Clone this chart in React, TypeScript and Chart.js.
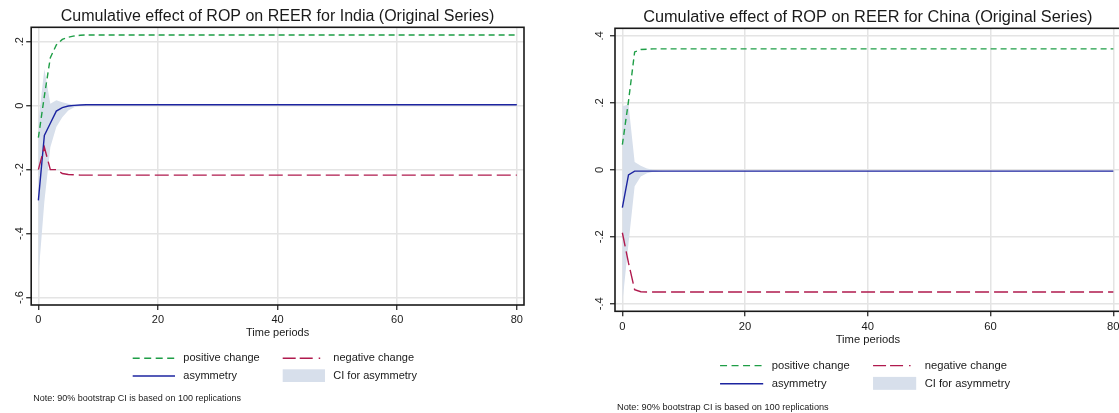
import React, { useEffect, useRef } from 'react';
import { Chart, registerables } from 'chart.js';
Chart.register(...registerables);

// ---------- data ----------
const periods = [0, 1, 2, 3, 4, 5, 6, 7, 8, 10, 20, 40, 60, 80];
const xTickValues = [0, 20, 40, 60, 80];
const indiaYTicks = [-0.6, -0.4, -0.2, 0, 0.2];
const chinaYTicks = [-0.4, -0.2, 0, 0.2, 0.4];

const indiaPositive = [-0.1, 0.03, 0.15, 0.19, 0.207, 0.214, 0.218, 0.22, 0.221, 0.221, 0.221, 0.221, 0.221, 0.221];
const indiaNegative = [-0.2, -0.13, -0.2, -0.2, -0.212, -0.215, -0.216, -0.217, -0.217, -0.217, -0.217, -0.217, -0.217, -0.217];
const indiaAsymmetry = [-0.296, -0.093, -0.055, -0.017, -0.006, -0.001, 0.001, 0.002, 0.003, 0.003, 0.003, 0.003, 0.003, 0.003];
const indiaCIUpper = [-0.05, 0.115, 0.006, 0.017, 0.011, 0.006, 0.004, 0.003, 0.003, 0.003, 0.003, 0.003, 0.003, 0.003];
const indiaCILower = [-0.535, -0.3, -0.13, -0.067, -0.036, -0.015, -0.005, 0.0, 0.002, 0.003, 0.003, 0.003, 0.003, 0.003];

const chinaPositive = [0.075, 0.205, 0.352, 0.359, 0.36, 0.361, 0.361, 0.361, 0.361, 0.361, 0.361, 0.361, 0.361, 0.361];
const chinaNegative = [-0.188, -0.278, -0.358, -0.364, -0.365, -0.365, -0.365, -0.365, -0.365, -0.365, -0.365, -0.365, -0.365, -0.365];
const chinaAsymmetry = [-0.113, -0.015, -0.004, -0.004, -0.004, -0.004, -0.004, -0.004, -0.004, -0.004, -0.004, -0.004, -0.004, -0.004];
const chinaCIUpper = [0.19, 0.195, 0.023, 0.012, 0.004, 0.0, -0.003, -0.004, -0.004, -0.004, -0.004, -0.004, -0.004, -0.004];
const chinaCILower = [-0.398, -0.22, -0.049, -0.02, -0.01, -0.006, -0.004, -0.004, -0.004, -0.004, -0.004, -0.004, -0.004, -0.004];

const indiaTitle = 'Cumulative effect of ROP on REER for India (Original Series)';
const chinaTitle = 'Cumulative effect of ROP on REER for China (Original Series)';
const xAxisTitle = 'Time periods';
const legendLabels = ['positive change', 'negative change', 'asymmetry', 'CI for asymmetry'];
const noteText = 'Note: 90% bootstrap CI is based on 100 replications';

// ---------- styles ----------
const FONT = '"Liberation Sans", Arial, sans-serif';
const GREEN = '#1e9e46';
const CRIMSON = '#b01a4e';
const NAVY = '#1c24a0';
const BAND = '#d7dfeb';
const GRID = '#e4e4e4';
const INK = '#1a1a1a';

const fmtY = (v: number) => {
  if (Math.abs(v) < 1e-9) return '0';
  const s = Math.abs(v).toFixed(1).replace(/^0/, '');
  return (v < 0 ? '-' : '') + s;
};

type PanelCfg = {
  canvasLeft: number; width: number;
  areaLeft: number; areaTop: number; areaRight: number; areaBottom: number;
  yMin: number; yMax: number; yTicks: number[];
  positive: number[]; negative: number[]; asym: number[]; upper: number[]; lower: number[];
  title: string; s: number; yLabOff: number;
};

const panels: PanelCfg[] = [
  {
    canvasLeft: 0, width: 560,
    areaLeft: 31.2, areaTop: 27.3, areaRight: 524, areaBottom: 305,
    yMin: -0.623, yMax: 0.245, yTicks: indiaYTicks,
    positive: indiaPositive, negative: indiaNegative, asym: indiaAsymmetry, upper: indiaCIUpper, lower: indiaCILower,
    title: indiaTitle, s: 1, yLabOff: 11,
  },
  {
    canvasLeft: 560, width: 600,
    areaLeft: 55, areaTop: 28.3, areaRight: 560.7, areaBottom: 311.3,
    yMin: -0.4225, yMax: 0.4225, yTicks: chinaYTicks,
    positive: chinaPositive, negative: chinaNegative, asym: chinaAsymmetry, upper: chinaCIUpper, lower: chinaCILower,
    title: chinaTitle, s: 1.02, yLabOff: 15.5,
  },
];

function Panel({ cfg }: { cfg: PanelCfg }) {
  const ref = useRef<HTMLCanvasElement>(null);
  useEffect(() => {
    const pts = (arr: number[]) => periods.map((p, i) => ({ x: p, y: arr[i] }));
    const s = cfg.s;
    const decor = {
      id: 'decor',
      afterDraw(chart: any) {
        const ctx = chart.ctx as CanvasRenderingContext2D;
        const ca = chart.chartArea;
        const ys = chart.scales.y;
        const cx = (ca.left + ca.right) / 2;
        ctx.save();
        // frame
        ctx.strokeStyle = INK;
        ctx.lineWidth = 1.6;
        ctx.setLineDash([]);
        ctx.strokeRect(ca.left, ca.top, ca.right - ca.left, ca.bottom - ca.top);
        // y tick labels (rotated)
        ctx.fillStyle = INK;
        ctx.font = `${11 * s}px ${FONT}`;
        ctx.textAlign = 'center';
        ctx.textBaseline = 'middle';
        cfg.yTicks.forEach((v) => {
          const py = ys.getPixelForValue(v);
          ctx.save();
          ctx.translate(ca.left - cfg.yLabOff, py);
          ctx.rotate(-Math.PI / 2);
          ctx.fillText(fmtY(v), 0, 0);
          ctx.restore();
        });
        // title
        ctx.font = `${16 * s}px ${FONT}`;
        ctx.textBaseline = 'alphabetic';
        ctx.fillText(cfg.title, cx, ca.top - 6.3);
        // x axis title
        ctx.font = `${11 * s}px ${FONT}`;
        ctx.textBaseline = 'middle';
        ctx.fillText(xAxisTitle, cx, ca.bottom + 27.7 * s);
        // legend
        const r1 = ca.bottom + 53.3 * s;
        const r2 = ca.bottom + 71 * s;
        const gx0 = cx - 144.9 * s, gx1 = cx - 102.6 * s, gt = cx - 94.3 * s;
        const cx0 = cx + 5.1 * s, cx1 = cx + 46.4 * s, ct = cx + 55.7 * s;
        ctx.lineWidth = 1.4;
        ctx.strokeStyle = GREEN;
        ctx.setLineDash([7, 4.5]);
        ctx.beginPath(); ctx.moveTo(gx0, r1); ctx.lineTo(gx1, r1); ctx.stroke();
        ctx.strokeStyle = CRIMSON;
        ctx.setLineDash([13, 4, 13, 6, 1.5, 20]);
        ctx.beginPath(); ctx.moveTo(cx0, r1); ctx.lineTo(cx1, r1); ctx.stroke();
        ctx.strokeStyle = NAVY;
        ctx.setLineDash([]);
        ctx.beginPath(); ctx.moveTo(gx0, r2); ctx.lineTo(gx1, r2); ctx.stroke();
        ctx.fillStyle = BAND;
        ctx.fillRect(cx0, r2 - 6.7 * s, 42.3 * s, 12.7 * s);
        ctx.fillStyle = INK;
        ctx.textAlign = 'left';
        ctx.fillText(legendLabels[0], gt, r1);
        ctx.fillText(legendLabels[1], ct, r1);
        ctx.fillText(legendLabels[2], gt, r2);
        ctx.fillText(legendLabels[3], ct, r2);
        // note
        ctx.font = `${9 * s}px ${FONT}`;
        ctx.fillText(noteText, ca.left + 2.1, ca.bottom + 94 * s);
        ctx.restore();
      },
    };

    const lineBase = { pointRadius: 0, tension: 0, fill: false, borderWidth: 1.4 };
    const chart = new Chart(ref.current as HTMLCanvasElement, {
      type: 'line',
      data: {
        datasets: [
          { ...lineBase, label: legendLabels[0], data: pts(cfg.positive), borderColor: GREEN, borderDash: [6, 4] },
          { ...lineBase, label: legendLabels[1], data: pts(cfg.negative), borderColor: CRIMSON, borderDash: [14, 5] },
          { ...lineBase, label: legendLabels[2], data: pts(cfg.asym), borderColor: NAVY },
          { ...lineBase, label: 'CI upper', data: pts(cfg.upper), borderColor: 'rgba(0,0,0,0)', borderWidth: 1, fill: '+1', backgroundColor: BAND },
          { ...lineBase, label: 'CI lower', data: pts(cfg.lower), borderColor: 'rgba(0,0,0,0)', borderWidth: 1 },
        ] as any,
      },
      options: {
        responsive: false,
        animation: false,
        devicePixelRatio: 1,
        layout: { padding: { left: 0, top: cfg.areaTop, right: cfg.width - cfg.areaRight, bottom: 0 } },
        plugins: {
          legend: { display: false },
          title: { display: false },
          tooltip: { enabled: false },
          filler: { drawTime: 'beforeDatasetsDraw' } as any,
        },
        scales: {
          x: {
            type: 'linear',
            min: -1.2,
            max: 81.2,
            afterBuildTicks: (sc: any) => { sc.ticks = xTickValues.map((v) => ({ value: v })); },
            afterFit: (sc: any) => { sc.height = 413 - cfg.areaBottom; },
            ticks: {
              autoSkip: false, maxRotation: 0, minRotation: 0, padding: 3.6,
              color: INK, font: { family: FONT, size: 11 * s },
              callback: (v: any) => String(v),
            },
            grid: { color: GRID, lineWidth: 1.5, tickLength: 5, tickColor: INK, tickWidth: 1.2 },
            border: { display: false },
          },
          y: {
            type: 'linear',
            min: cfg.yMin,
            max: cfg.yMax,
            afterBuildTicks: (sc: any) => { sc.ticks = cfg.yTicks.map((v) => ({ value: v })); },
            afterFit: (sc: any) => { sc.width = cfg.areaLeft; },
            ticks: { display: false },
            grid: { color: GRID, lineWidth: 1.5, tickLength: 5, tickColor: INK, tickWidth: 1.2 },
            border: { display: false },
          },
        },
      } as any,
      plugins: [decor],
    });
    return () => chart.destroy();
  }, [cfg]);
  return (
    <canvas
      ref={ref}
      width={cfg.width}
      height={413}
      style={{ position: 'absolute', left: cfg.canvasLeft, top: 0, width: cfg.width, height: 413 }}
    />
  );
}

export default function App() {
  return (
    <div style={{ position: 'fixed', left: 0, top: 0, width: 1119, height: 413, overflow: 'hidden', background: '#fff' }}>
      {panels.map((p, i) => (
        <Panel key={i} cfg={p} />
      ))}
    </div>
  );
}
